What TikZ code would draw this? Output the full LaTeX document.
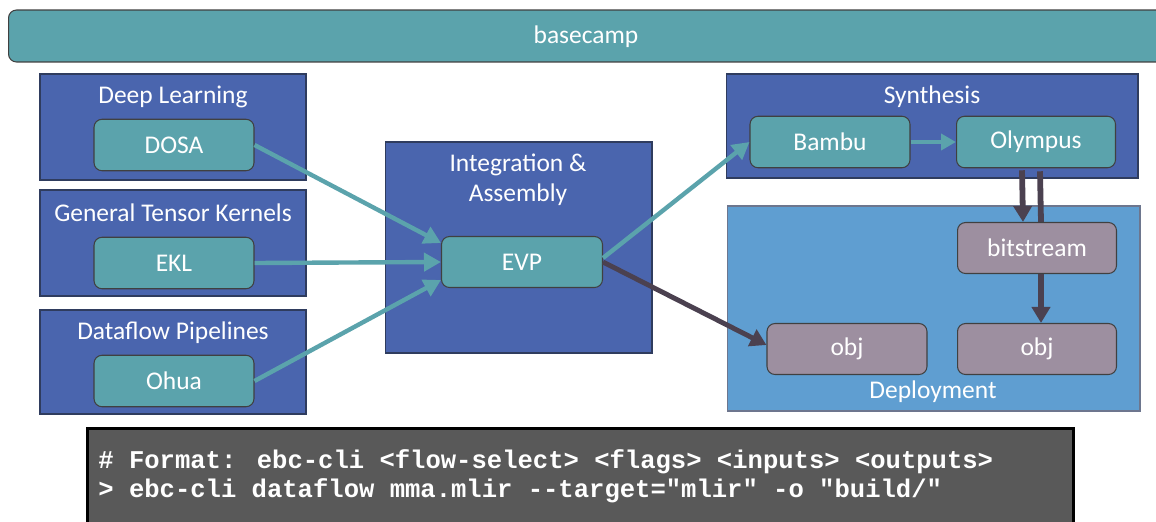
\documentclass[tikz,border=0pt]{standalone}
\usepackage{fontspec}
\setmainfont{Carlito}
\newfontfamily\codefont{Liberation Mono}
\usepackage{xcolor}
\usetikzlibrary{arrows.meta,positioning,calc,backgrounds,fit}
\definecolor{tealfill}{HTML}{5BA3AC}
\definecolor{grpblue}{HTML}{4A65AE}
\definecolor{grpline}{HTML}{2F3C5E}
\definecolor{deplblue}{HTML}{5F9ED1}
\definecolor{artfill}{HTML}{9D8FA0}
\definecolor{darkarrow}{HTML}{4B4150}
\definecolor{codebg}{HTML}{595959}
\tikzset{
  grp/.style     ={rectangle,draw=grpline,fill=grpblue,line width=0.6pt,inner sep=0pt},
  deplgrp/.style ={rectangle,draw=grpline!70,fill=deplblue,line width=0.6pt,inner sep=0pt},
  title/.style   ={text=white,font=\fontsize{14.5}{17}\selectfont,inner sep=0pt,align=center},
  tool/.style    ={rectangle,rounded corners=0.16cm,draw=black!75,fill=tealfill,line width=0.6pt,
                   minimum width=3.2cm,minimum height=1.03cm,inner sep=0pt,text=white,
                   font=\fontsize{14.5}{17}\selectfont},
  artifact/.style={tool,fill=artfill},
  flow/.style    ={tealfill,line width=2.5pt,-{Triangle[length=0.34cm,width=0.36cm]}},
  darkflow/.style={darkarrow,line width=2.8pt,-{Triangle[length=0.32cm,width=0.36cm]}},
  codeline/.style={anchor=west,text=white,inner sep=0pt,font=\codefont\bfseries\fontsize{14.55}{16}\selectfont},
}
\begin{document}
\begin{tikzpicture}[x=0.02cm,y=-0.02cm]
  \useasboundingbox (0,0) rectangle (1156,521);
  % top bar
  \node[tool,minimum width=23.4cm,minimum height=1.04cm,anchor=west] (basecamp) at (8,36){};
  \node[title] (bclabel) at (586,37){basecamp};
  % source groups
  \node[grp,minimum width=5.32cm,minimum height=2.12cm] (deep) at (173,127){};
  \node[grp,minimum width=5.32cm,minimum height=2.12cm] (tensor) at (173,243){};
  \node[grp,minimum width=5.32cm,minimum height=2.08cm] (pipe) at (173,362){};
  \node[title] (deeptitle) at (173,97){Deep Learning};
  \node[title] (tensortitle) at (173,213){General Tensor Kernels};
  \node[title] (pipetitle) at (173,333){Dataflow Pipelines};
  \node[tool] (dosa) at (174,145){DOSA};
  \node[tool] (ekl) at (174,263){EKL};
  \node[tool] (ohua) at (174,381){Ohua};
  % integration
  \node[grp,minimum width=5.34cm,minimum height=4.22cm] (integ) at (518.5,247.5){};
  \node[title] (integtitle) at (518,180){Integration \&\\Assembly};
  \node[tool,minimum width=3.22cm,minimum height=1.02cm] (evp) at (522,262){EVP};
  % synthesis and deployment
  \node[grp,minimum width=8.24cm,minimum height=2.08cm] (synth) at (932,126){};
  \node[title] (synthtitle) at (932,97){Synthesis};
  \node[tool] (bambu) at (830,142){Bambu};
  \node[tool,minimum width=3.18cm] (olympus) at (1036,142){Olympus};
  \node[deplgrp,minimum width=8.26cm,minimum height=4.1cm] (deploy) at (933.5,308.5){};
  \node[title] (deploytitle) at (933,392){Deployment};
  \node[artifact,minimum width=3.18cm,minimum height=1.02cm] (bits) at (1037,248){bitstream};
  \node[artifact,minimum width=3.2cm,minimum height=1.02cm] (objA) at (847,349){obj};
  \node[artifact,minimum width=3.18cm,minimum height=1.02cm] (objB) at (1037,349){obj};
  % connectors
  \draw[flow] (dosa.east) -- ([yshift=0.38cm]evp.west);
  \draw[flow] (ekl.east) -- (evp.west);
  \draw[flow] (ohua.east) -- ([yshift=-0.36cm]evp.west);
  \draw[flow] ([yshift=0.08cm]evp.east) -- (bambu.west);
  \draw[flow,-{Triangle[length=0.3cm,width=0.32cm]}] (bambu.east) -- (olympus.west);
  \draw[darkflow] (evp.east) -- ([yshift=0.08cm]objA.west);
  \draw[darkflow,line width=3.3pt] ([xshift=-0.28cm,yshift=-0.04cm]olympus.south) -- ([xshift=-0.28cm]bits.north);
  \draw[darkarrow,line width=3.3pt] ([xshift=0.08cm,yshift=-0.06cm]olympus.south) -- ([xshift=0.08cm]bits.north);
  \draw[darkflow,line width=3.3pt] ([xshift=0.08cm]bits.south) -- ([xshift=0.08cm]objB.north);
  % command box
  \node[rectangle,draw=black,line width=1.8pt,fill=codebg,minimum width=19.72cm,minimum height=2cm,inner sep=0pt,anchor=north west] (cmd) at (86,427){};
  \node[codeline] (fmt) at (98,462){\# Format: ebc-cli <flow-select> <flags> <inputs> <outputs>};
  \node[codeline] (run) at (98,491){> ebc-cli dataflow mma.mlir --target="mlir" -o "build/"};
\end{tikzpicture}
\end{document}
